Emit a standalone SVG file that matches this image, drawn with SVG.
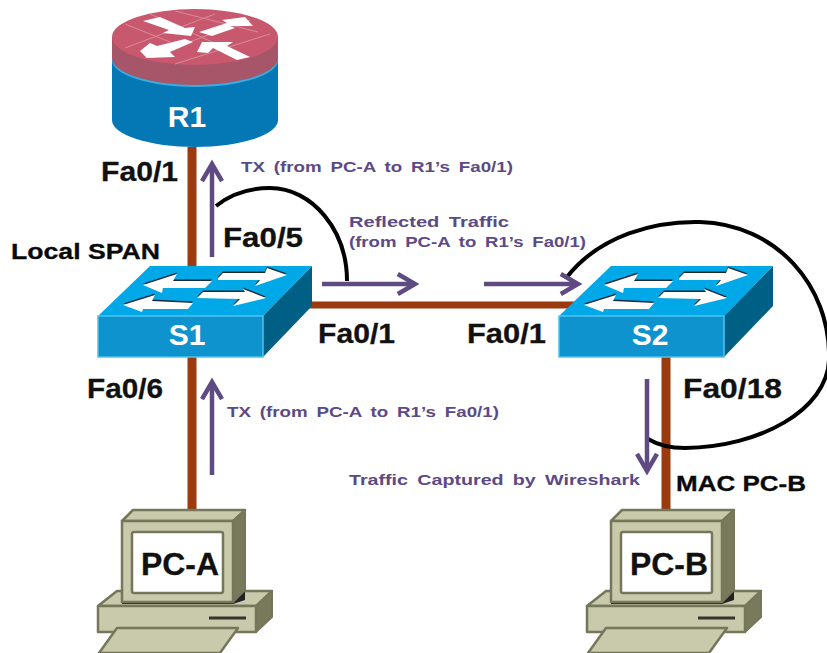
<svg xmlns="http://www.w3.org/2000/svg" width="827" height="653" viewBox="0 0 827 653">
<style>
text{font-family:"Liberation Sans",Arial,sans-serif;font-weight:bold}
.l{font-size:28px;fill:#111;stroke:#111;stroke-width:.3}
.m{font-size:22.5px;fill:#0a0a0a;stroke:#0a0a0a;stroke-width:.3}
.p{font-size:15.5px;fill:#5b4a85;word-spacing:3px}
.n{font-size:30px;fill:#fff;text-anchor:middle}
.pc{font-size:31px;fill:#111;text-anchor:middle;stroke:#111;stroke-width:.3}
.link{stroke:#9a3a0e;fill:none}
.arr{stroke:#5f4b82;stroke-width:4.5;fill:none}
.arc{stroke:#000;stroke-width:4;fill:none}
.w{fill:#fff}
.f{fill:#c9c9ac;stroke:#76775a;stroke-width:2.5;stroke-linejoin:round}
.d{fill:#797a5c;stroke:#76775a;stroke-width:2;stroke-linejoin:round}
</style>
<defs>
<g id="swa">
<path d="M143 285L177 274 173 281H212L205 288H163L162 293Z"/>
<path d="M218 278L223 273H265L267 268 287 275 255 286 260 280H218Z"/>
<path d="M123 305L155 295 152 301 193 303 188 309H143L142 312Z"/>
<path d="M197 298L203 292H245L243 289 266 298 233 306 240 299Z"/>
</g>
<g id="sw">
<path d="M98 316L150 266H312L263 316Z" fill="#00a8e8"/>
<path d="M263 316L312 266V306L263 357Z" fill="#005f85"/>
<rect x="98" y="316" width="165" height="41" fill="#0f93cf" stroke="#4fc3ee" stroke-width="1.5"/>
<use href="#swa" y="-1.5" fill="#1a2a35"/>
<use href="#swa" fill="#fff"/>
</g>
<g id="pc">
<path class="d" d="M256 606L272 591V617L256 632Z"/>
<path class="f" d="M98 606L117 591H272L256 606Z"/>
<rect class="f" x="98" y="606" width="158" height="26"/>
<path d="M209 618H246" stroke="#33352a" stroke-width="3"/>
<path class="f" d="M117 628H238L220 653H99Z"/>
<path d="M122 603H233L245 590V600L233 604H122Z" fill="#222"/>
<path class="d" d="M233 521L245 510V590L233 602Z"/>
<path class="f" d="M122 521L133 510H245L233 521Z"/>
<rect class="f" x="122" y="521" width="111" height="81"/>
<rect x="132" y="532" width="91" height="61" rx="2" fill="#fff" stroke="#76775a" stroke-width="2.5"/>
</g>
<marker id="h" markerWidth="8" markerHeight="8" refX="6.2" refY="4" orient="auto" markerUnits="userSpaceOnUse" viewBox="0 0 8 8" overflow="visible"><path d="M-11 -6L6.2 4-11 14" fill="none" stroke="#5f4b82" stroke-width="4.5"/></marker>
</defs>
<g id="connectors">
<path class="link" stroke-width="9" d="M192 147V270M192 355V510M666 355V510"/>
<path class="link" stroke-width="7" d="M305 305H578"/>
<path class="arc" d="M216 206C232 193 252 188 270 188C312 188 347 230 347 281"/>
<path class="arc" d="M567 277C600 235 655 221 700 222C775 224 831 285 829 360C827 410 760 447 685 448C670 448 658 445 648 439"/>
<path class="arr" marker-end="url(#h)" d="M212 257V164"/>
<path class="arr" marker-end="url(#h)" d="M212 475V382"/>
<path class="arr" marker-end="url(#h)" d="M322 284H415"/>
<path class="arr" marker-end="url(#h)" d="M484 284H578"/>
<path class="arr" marker-end="url(#h)" d="M647 379V471"/>
</g>
<g id="R1">
<path d="M112 60V120A83 27 0 0 0 278 120V60Z" fill="#0478b5"/>
<ellipse cx="195" cy="60" rx="83" ry="27" fill="#35aee2"/>
<path d="M112 37V58A83 27 0 0 0 278 58V37Z" fill="#a65668"/>
<ellipse cx="195" cy="37" rx="83" ry="28" fill="#c8586e"/>
<path d="M125 24L170 42M150 14L230 50M175 11L258 32M125 48L215 14M145 58L250 20M175 64L270 34" stroke="#d98a98" stroke-width="1" fill="none"/>
<path class="w" d="M143 21L160 17 185 28 195 27 191 36 163 33 169 30Z"/>
<path class="w" d="M199 32L227 23 222 20 245 17 253 26 230 26 235 28 212 36Z"/>
<path class="w" d="M140 51L150 43 157 46 185 39 193 42 170 52 175 57 147 58Z"/>
<path class="w" d="M197 52L202 42H233L227 46 250 57 237 60 213 48 208 53Z"/>
<text class="n" x="187" y="127">R1</text>
</g>
<g id="S1"><use href="#sw"/><text class="n" x="187" y="345">S1</text></g>
<g id="S2"><use href="#sw" x="461"/><text class="n" x="650" y="345">S2</text></g>
<g id="PC-A"><use href="#pc"/><text class="pc" x="180" y="575" textLength="78" lengthAdjust="spacingAndGlyphs">PC-A</text></g>
<g id="PC-B"><use href="#pc" x="489"/><text class="pc" x="669" y="575" textLength="78" lengthAdjust="spacingAndGlyphs">PC-B</text></g>
<g id="labels">
<text class="l" x="101" y="181" textLength="77" lengthAdjust="spacingAndGlyphs">Fa0/1</text>
<text class="l" x="223" y="247" textLength="80" lengthAdjust="spacingAndGlyphs">Fa0/5</text>
<text class="l" x="318" y="343" textLength="77" lengthAdjust="spacingAndGlyphs">Fa0/1</text>
<text class="l" x="467" y="343" textLength="79" lengthAdjust="spacingAndGlyphs">Fa0/1</text>
<text class="l" x="87" y="398" textLength="76" lengthAdjust="spacingAndGlyphs">Fa0/6</text>
<text class="l" x="683" y="398" textLength="99" lengthAdjust="spacingAndGlyphs">Fa0/18</text>
<text class="m" x="11" y="259" textLength="149" lengthAdjust="spacingAndGlyphs">Local SPAN</text>
<text class="m" x="676" y="491" textLength="130" lengthAdjust="spacingAndGlyphs">MAC PC-B</text>
<text class="p" x="241" y="172" textLength="272" lengthAdjust="spacingAndGlyphs">TX (from PC-A to R1’s Fa0/1)</text>
<text class="p" x="349" y="227" textLength="160" lengthAdjust="spacingAndGlyphs">Reflected Traffic</text>
<text class="p" x="349" y="247" textLength="237" lengthAdjust="spacingAndGlyphs">(from PC-A to R1’s Fa0/1)</text>
<text class="p" x="227" y="417" textLength="272" lengthAdjust="spacingAndGlyphs">TX (from PC-A to R1’s Fa0/1)</text>
<text class="p" x="349" y="485" textLength="291" lengthAdjust="spacingAndGlyphs">Traffic Captured by Wireshark</text>
</g>
</svg>
